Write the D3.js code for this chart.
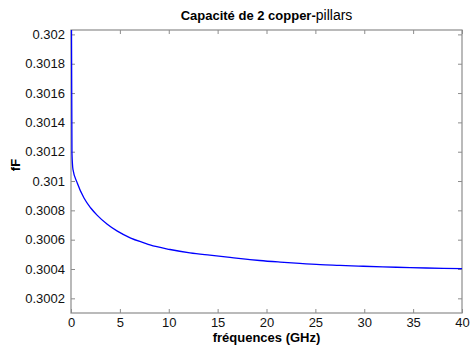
<!DOCTYPE html>
<html>
<head>
<meta charset="utf-8">
<script src="https://cdn.jsdelivr.net/npm/d3@7"></script>
<style>
  body { margin: 0; background: #fff; }
  svg { font-family: "Liberation Sans", Arial, sans-serif; }
</style>
</head>
<body>
<div id="wrapper"></div>
<script>
// frequency (GHz) and capacitance (fF)
const freq = [0.05, 0.1, 0.2, 0.64, 1.33, 2.02, 2.69, 3.71, 4.74, 6.11, 7.47, 8.08, 10.13, 12.17, 14.2, 16.27, 18.1, 19.3, 21.4, 23.4, 25.5, 27.5, 29.4, 31.9, 34.7, 38.1, 40]
const cap = [0.30203, 0.30119, 0.30108, 0.300987, 0.300884, 0.300816, 0.300766, 0.300705, 0.300658, 0.300611, 0.300578, 0.300564, 0.300533, 0.30051, 0.300494, 0.300479, 0.300466, 0.300458, 0.300447, 0.300438, 0.30043, 0.300425, 0.30042, 0.300414, 0.30041, 0.300404, 0.300402]
const xTicks = [0, 5, 10, 15, 20, 25, 30, 35, 40]
const yTicks = [0.3002, 0.3004, 0.3006, 0.3008, 0.301, 0.3012, 0.3014, 0.3016, 0.3018, 0.302]
const xDomain = [0, 40]
const yDomain = [0.3001, 0.30203]

const dimensions = {
  width: 470,
  height: 347,
  margin: { top: 30, right: 8, bottom: 34, left: 71 }
}
dimensions.boundedWidth = dimensions.width - dimensions.margin.left - dimensions.margin.right
dimensions.boundedHeight = dimensions.height - dimensions.margin.top - dimensions.margin.bottom

const wrapper = d3.select("#wrapper")
  .append("svg")
    .attr("width", dimensions.width)
    .attr("height", dimensions.height)

const bounds = wrapper.append("g")
  .attr("transform", `translate(${dimensions.margin.left}, ${dimensions.margin.top})`)

const xScale = d3.scaleLinear().domain(xDomain).range([0, dimensions.boundedWidth])
const yScale = d3.scaleLinear().domain(yDomain).range([dimensions.boundedHeight, 0])

const axisColor = "#8c8c8c"
const fmt = d => String(+d.toFixed(4))

// frame
bounds.append("rect")
  .attr("width", dimensions.boundedWidth)
  .attr("height", dimensions.boundedHeight)
  .attr("fill", "none")
  .attr("stroke", axisColor)
  .attr("stroke-width", 1.2)

// inward ticks on all four sides
const xAxis = d3.axisBottom(xScale).tickValues(xTicks).tickSize(-4).tickPadding(5).tickFormat(d => d)
const yAxis = d3.axisLeft(yScale).tickValues(yTicks).tickSize(-4).tickPadding(6).tickFormat(fmt)

const xAxisGroup = bounds.append("g")
  .attr("transform", `translate(0, ${dimensions.boundedHeight})`)
  .call(xAxis)
const yAxisGroup = bounds.append("g").call(yAxis)
const xTop = bounds.append("g")
  .call(d3.axisTop(xScale).tickValues(xTicks).tickSize(-4).tickFormat(""))
const yRight = bounds.append("g")
  .attr("transform", `translate(${dimensions.boundedWidth}, 0)`)
  .call(d3.axisRight(yScale).tickValues(yTicks).tickSize(-4).tickFormat(""))

;[xAxisGroup, yAxisGroup, xTop, yRight].forEach(g => {
  g.select(".domain").remove()
  g.selectAll(".tick line").attr("stroke", axisColor)
  g.selectAll(".tick text")
    .attr("fill", "#111")
    .style("font-family", "'Liberation Sans', Arial, sans-serif")
    .style("font-size", "13px")
})

// the curve
const points = freq.map((f, i) => [f, cap[i]])
const line = d3.line()
  .x(d => xScale(d[0]))
  .y(d => yScale(d[1]))
  .curve(d3.curveMonotoneX)

bounds.append("path")
  .datum(points)
  .attr("d", line)
  .attr("fill", "none")
  .attr("stroke", "#0000ff")
  .attr("stroke-width", 1.3)

// title and labels
const title = wrapper.append("text")
  .attr("x", dimensions.margin.left + dimensions.boundedWidth / 2)
  .attr("y", 20)
  .attr("text-anchor", "middle")
  .style("font-size", "13px")
  .attr("fill", "#000")
title.append("tspan").attr("font-weight", "bold").text("Capacité de 2 copper-")
title.append("tspan").style("font-size", "14px").text("pillars")

wrapper.append("text")
  .attr("x", dimensions.margin.left + dimensions.boundedWidth / 2)
  .attr("y", 342)
  .attr("text-anchor", "middle")
  .attr("font-weight", "bold")
  .style("font-size", "13px")
  .text("fréquences (GHz)")

wrapper.append("text")
  .attr("transform", `translate(20, 165) rotate(-90)`)
  .attr("text-anchor", "middle")
  .attr("font-weight", "bold")
  .style("font-size", "13px")
  .text("fF")
</script>
</body>
</html>
